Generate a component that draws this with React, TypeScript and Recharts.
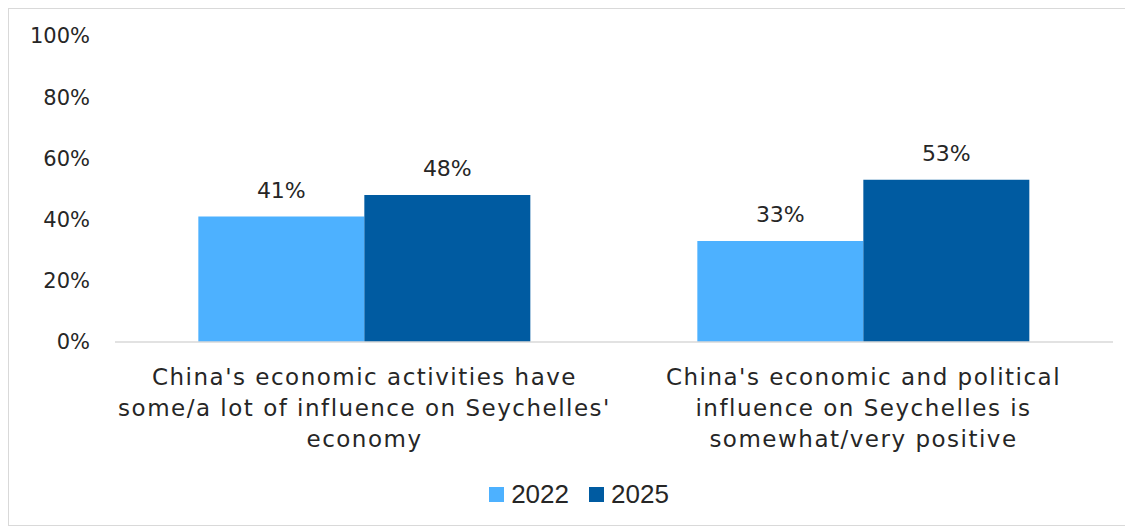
import React from "react";
import { BarChart, Bar, XAxis, YAxis, Legend, LabelList } from "recharts";

const categories = [
  "China's economic activities have\nsome/a lot of influence on Seychelles'\neconomy",
  "China's economic and political\ninfluence on Seychelles is\nsomewhat/very positive",
];
const series2022 = [41, 33];
const series2025 = [48, 53];
const yTicks = [0, 20, 40, 60, 80, 100];
const seriesNames = ["2022", "2025"];
const colors = ["#4DB1FF", "#005BA1"];

const data = categories.map((c, i) => ({
  name: c,
  v2022: series2022[i],
  v2025: series2025[i],
}));

const FONT = "'DejaVu Sans', sans-serif";

const CatTick = (props: any) => {
  const { x, y, payload } = props;
  const lines = String(payload.value).split("\n");
  return (
    <g transform={`translate(${x},${y})`}>
      <text
        textAnchor="middle"
        fill="#262626"
        fontFamily={FONT}
        fontSize={23}
        letterSpacing={1.5}
      >
        {lines.map((l, i) => (
          <tspan key={i} x={0} y={35 + i * 31}>
            {l}
          </tspan>
        ))}
      </text>
    </g>
  );
};

const renderLegend = () => (
  <div
    style={{
      display: "flex",
      justifyContent: "center",
      alignItems: "center",
      fontFamily: "'Liberation Sans', Arial, sans-serif",
      fontSize: 26,
      color: "#262626",
      paddingLeft: 36,
    }}
  >
    {seriesNames.map((n, i) => (
      <div key={n} style={{ display: "flex", alignItems: "center", marginRight: i === 0 ? 20 : 0 }}>
        <div style={{ width: 15, height: 15, background: colors[i], marginRight: 7 }} />
        <span>{n}</span>
      </div>
    ))}
  </div>
);

export default function App() {
  return (
    <div
      style={{
        width: 1118,
        height: 516,
        border: "1px solid #d9d9d9",
        background: "#fff",
      }}
    >
      <BarChart
        width={1118}
        height={516}
        data={data}
        margin={{ top: 27, right: 14, left: 0, bottom: 10 }}
        barCategoryGap="16.7%"
        barGap={0}
      >
        <XAxis
          dataKey="name"
          tick={<CatTick />}
          tickLine={false}
          axisLine={{ stroke: "#d9d9d9", strokeWidth: 1.5 }}
          height={137}
          interval={0}
        />
        <YAxis
          domain={[0, 100]}
          ticks={yTicks}
          tickFormatter={(v: number) => `${v}%`}
          axisLine={false}
          tickLine={false}
          tickSize={0}
          tickMargin={25}
          width={106}
          tick={{ fill: "#262626", fontFamily: FONT, fontSize: 21 }}
        />
        <Legend verticalAlign="bottom" height={36} content={renderLegend} />
        <Bar dataKey="v2022" name={seriesNames[0]} fill={colors[0]} isAnimationActive={false}>
          <LabelList
            dataKey="v2022"
            position="top"
            offset={19}
            formatter={(v: number) => `${v}%`}
            fill="#262626"
            fontFamily={FONT}
            fontSize={22}
          />
        </Bar>
        <Bar dataKey="v2025" name={seriesNames[1]} fill={colors[1]} isAnimationActive={false}>
          <LabelList
            dataKey="v2025"
            position="top"
            offset={19}
            formatter={(v: number) => `${v}%`}
            fill="#262626"
            fontFamily={FONT}
            fontSize={22}
          />
        </Bar>
      </BarChart>
    </div>
  );
}
